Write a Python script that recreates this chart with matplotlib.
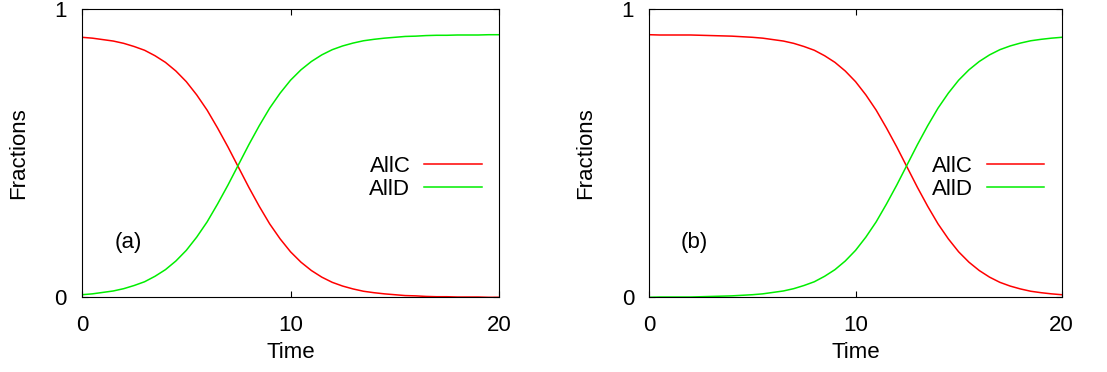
import numpy as np
import matplotlib
matplotlib.use("Agg")
import matplotlib.pyplot as plt

plt.rcParams['font.family'] = ['Liberation Sans', 'DejaVu Sans']

# time grid (step 0.5)
time = np.arange(0, 20.5, 0.5)

# panel (a)
allc_a = [0.903, 0.900, 0.895, 0.890, 0.882, 0.871, 0.858, 0.839, 0.816, 0.786,
          0.749, 0.703, 0.650, 0.588, 0.522, 0.452, 0.382, 0.316, 0.255, 0.203,
          0.158, 0.122, 0.093, 0.070, 0.052, 0.039, 0.029, 0.021, 0.016, 0.012,
          0.009, 0.006, 0.005, 0.003, 0.002, 0.002, 0.001, 0.001, 0.001, 0.000, 0.000]
alld_a = [0.009, 0.012, 0.017, 0.022, 0.030, 0.041, 0.054, 0.073, 0.096, 0.126,
          0.163, 0.209, 0.262, 0.324, 0.390, 0.460, 0.530, 0.596, 0.657, 0.709,
          0.754, 0.790, 0.819, 0.842, 0.860, 0.873, 0.883, 0.891, 0.896, 0.900,
          0.903, 0.906, 0.907, 0.909, 0.910, 0.910, 0.911, 0.911, 0.911, 0.912, 0.912]

# panel (b)
allc_b = [0.912, 0.911, 0.911, 0.911, 0.911, 0.910, 0.909, 0.908, 0.907, 0.905,
          0.903, 0.900, 0.895, 0.890, 0.882, 0.871, 0.858, 0.839, 0.816, 0.786,
          0.749, 0.703, 0.650, 0.588, 0.522, 0.452, 0.382, 0.316, 0.255, 0.203,
          0.158, 0.122, 0.093, 0.070, 0.052, 0.039, 0.029, 0.021, 0.016, 0.012, 0.009]
alld_b = [0.000, 0.001, 0.001, 0.001, 0.001, 0.002, 0.003, 0.004, 0.005, 0.007,
          0.009, 0.012, 0.017, 0.022, 0.030, 0.041, 0.054, 0.073, 0.096, 0.126,
          0.163, 0.209, 0.262, 0.324, 0.390, 0.460, 0.530, 0.596, 0.657, 0.709,
          0.754, 0.790, 0.819, 0.842, 0.860, 0.873, 0.883, 0.891, 0.896, 0.900, 0.903]

panels = [("(a)", allc_a, alld_a, 0.0741, 0.3767),
          ("(b)", allc_b, alld_b, 0.5866, 0.3725)]

fig = plt.figure(figsize=(11.07, 3.72), dpi=100)

for tag, c, d, left, width in panels:
    ax = fig.add_axes([left, 0.2008, width, 0.774])
    ax.plot(time, c, color='#ff0000', lw=1.1, label='AllC')
    ax.plot(time, d, color='#00ee00', lw=1.1, label='AllD')
    ax.set_xlim(0, 20)
    ax.set_ylim(0, 1)
    ax.set_xticks([0, 10, 20])
    ax.set_yticks([0, 1])
    ax.tick_params(direction='in', length=4, width=0.8, top=True, right=True,
                   labelsize=16)
    ax.tick_params(axis='x', pad=13)
    ax.tick_params(axis='y', pad=11)
    for s in ax.spines.values():
        s.set_linewidth(0.8)
    ax.set_xlabel('Time', fontsize=16, labelpad=4)
    ax.set_ylabel('Fractions', fontsize=16, labelpad=18)
    ax.text(2.2, 0.19, tag, fontsize=16, ha='center', va='center')
    ax.legend(loc='center right', bbox_to_anchor=(0.958, 0.415), frameon=False,
              markerfirst=False, fontsize=16, handlelength=2.6,
              handletextpad=0.6, labelspacing=0.08, borderpad=0, borderaxespad=0)

fig.savefig('out.png', dpi=100)
